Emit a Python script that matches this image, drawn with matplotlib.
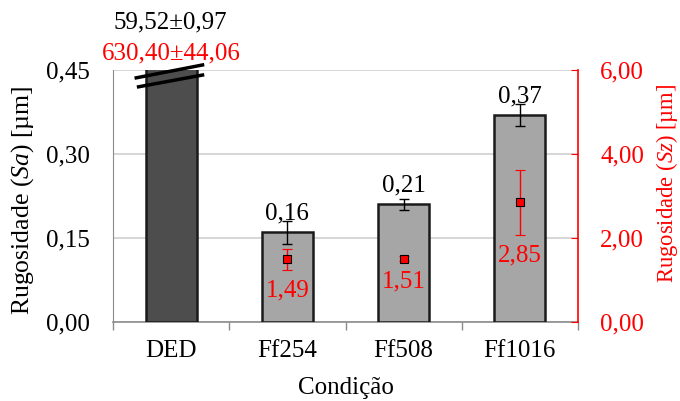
import matplotlib
matplotlib.use("Agg")
import matplotlib.pyplot as plt
import numpy as np

plt.rcParams["font.family"] = ["Liberation Serif", "DejaVu Serif"]
plt.rcParams["mathtext.fontset"] = "custom"
plt.rcParams["mathtext.rm"] = "Liberation Serif"
plt.rcParams["mathtext.it"] = "Liberation Serif:italic"

# Data
categories = ["DED", "Ff254", "Ff508", "Ff1016"]
sa_mean = [59.52, 0.16, 0.21, 0.37]
sa_err = [0.97, 0.02, 0.01, 0.02]
sz_mean = [630.40, 1.49, 1.51, 2.85]
sz_err = [44.06, 0.25, 0.05, 0.77]
sa_ticks = [0.00, 0.15, 0.30, 0.45]
sz_ticks = [0.0, 2.0, 4.0, 6.0]

FS = 18


def fmt(v):
    return f"{v:.2f}".replace(".", ",")


W, H = 680, 401
fig = plt.figure(figsize=(W / 100, H / 100), dpi=100)
ax = fig.add_axes([113 / W, 1 - 322 / H, 465 / W, 252 / H])
ax2 = ax.twinx()
ax2.patch.set_visible(False)

x = np.arange(len(categories))
colors = ["#4d4d4d"] + ["#a6a6a6"] * (len(categories) - 1)

ax.bar(x, sa_mean, width=0.44, color=colors, edgecolor="#1a1a1a", linewidth=1.8, zorder=3)
# Sa error bars for the bars that fit inside the axis range
ax.errorbar(x[1:], sa_mean[1:], yerr=sa_err[1:], fmt="none", ecolor="black",
            elinewidth=1.0, capsize=3.5, capthick=1.0, zorder=4)

ax.set_ylim(0, 0.45)
ax.set_xlim(-0.5, len(categories) - 0.5)
ax.set_yticks(sa_ticks)
ax.set_yticklabels([fmt(t) for t in sa_ticks], fontsize=FS)
ax.tick_params(axis="y", length=0, pad=17)
ax.yaxis.grid(True, color="#d0d0d0", linewidth=1.2, zorder=0)
ax.set_axisbelow(True)

# Category labels with separator ticks between groups
ax.set_xticks(x)
ax.set_xticklabels(categories, fontsize=FS)
ax.tick_params(axis="x", length=0, pad=13)
ax.set_xticks(np.arange(-0.5, len(categories)), minor=True)
ax.tick_params(axis="x", which="minor", length=6, color="#8c8c8c", width=1.0)

ax.spines["top"].set_visible(False)
ax.spines["right"].set_visible(False)
ax.spines["left"].set_color("#8c8c8c")
ax.spines["bottom"].set_color("#8c8c8c")
ax.spines["bottom"].set_linewidth(1.2)

# Sz on the secondary axis
ax2.errorbar(x[1:], sz_mean[1:], yerr=sz_err[1:], fmt="s", color="red",
             markerfacecolor="red", markeredgecolor="black", markeredgewidth=0.8,
             markersize=5.5, ecolor="red", elinewidth=1.0, capsize=3.5, capthick=1.0,
             zorder=5)
ax2.set_ylim(0, 6)
ax2.set_yticks(sz_ticks)
ax2.set_yticklabels([fmt(t) for t in sz_ticks], fontsize=FS, color="red")
ax2.tick_params(axis="y", direction="in", length=5, color="red", pad=16)
for sp in ["top", "left", "bottom"]:
    ax2.spines[sp].set_visible(False)
ax2.spines["right"].set_color("red")
ax2.spines["right"].set_linewidth(1.2)

# Axis titles
fig.text(23 / W, 1 - 200 / H, r"Rugosidade ($\mathit{Sa}$) [µm]", rotation=90,
         ha="center", va="center", fontsize=18.5)
fig.text(667 / W, 1 - 183 / H, r"Rugosidade ($\mathit{Sz}$) [µm]", rotation=90,
         ha="center", va="center", fontsize=16.3, color="red")
fig.text(346 / W, 1 - 388 / H, "Condição", ha="center", va="center", fontsize=FS)

# Value labels
for i in range(1, len(categories)):
    ax.annotate(fmt(sa_mean[i]), (x[i], sa_mean[i]), xytext=(0, 9),
                textcoords="offset points", ha="center", va="baseline",
                fontsize=FS, zorder=6)
    ax2.annotate(fmt(sz_mean[i]), (x[i], sz_mean[i] - sz_err[i]), xytext=(0, -7),
                 textcoords="offset points", ha="center", va="top", fontsize=FS,
                 color="red", zorder=6)

# Truncated DED bar: break marks and its values written above the axes
ax.plot([-0.30, 0.27], [0.436, 0.459], color="black", lw=2.5, clip_on=False, zorder=7)
ax.plot([-0.28, 0.27], [0.420, 0.441], color="black", lw=2.5, clip_on=False, zorder=7)
fig.text(170 / W, 1 - 22 / H, f"{fmt(sa_mean[0])}±{fmt(sa_err[0])}",
         ha="center", va="center", fontsize=FS)
fig.text(171 / W, 1 - 53 / H, f"{fmt(sz_mean[0])}±{fmt(sz_err[0])}",
         ha="center", va="center", fontsize=FS, color="red")

fig.savefig("out.png", dpi=100)
